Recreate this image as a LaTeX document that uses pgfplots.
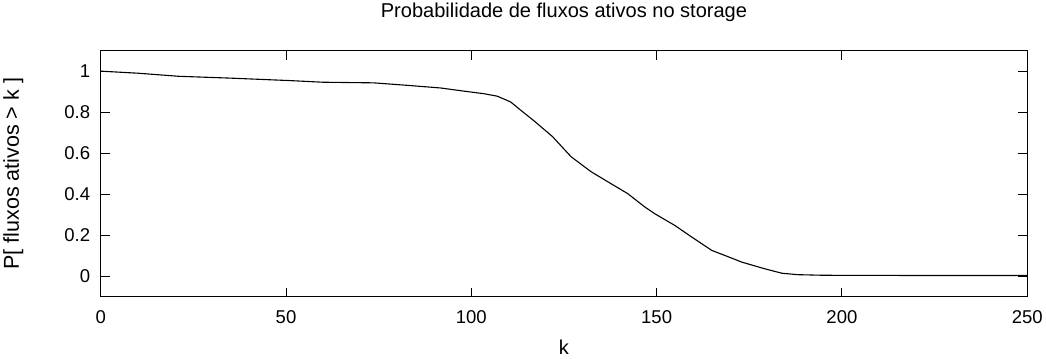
\documentclass[border=0pt]{standalone}
\usepackage{fontspec}
\setmainfont{Liberation Sans}
\usepackage{pgfplots}
\pgfplotsset{compat=1.18}
\begin{document}
\begin{tikzpicture}
\begin{axis}[
    scale only axis,
    width=922bp, height=245bp,
    xmin=0, xmax=250,
    ymin=-0.1, ymax=1.1,
    xtick={0,50,...,250},
    ytick={0,0.2,0.4,0.6,0.8,1},
    yticklabels={0,0.2,0.4,0.6,0.8,1},
    tick align=inside,
    major tick length=9bp,
    tick style={line width=1pt, black},
    axis line style={line width=1pt},
    /pgf/number format/assume math mode=true,
    tick label style={font=\fontsize{18.5}{22}\selectfont},
    label style={font=\fontsize{20}{24}\selectfont},
    title style={font=\fontsize{20}{24}\selectfont, yshift=19bp},
    yticklabel style={xshift=-7bp},
    xticklabel style={yshift=-10bp},
    title={Probabilidade de fluxos ativos no storage},
    xlabel={k},
    ylabel={P[ fluxos ativos > k ]},
    xlabel style={yshift=-10bp},
    ylabel style={yshift=34bp, font=\fontsize{21.5}{24}\selectfont},
  ]
  \addplot[black, line width=1.1pt] coordinates {
    (0,1.0) (10,0.99) (21,0.975) (35,0.966) (51,0.954) (60,0.946)
    (73.6,0.943) (82.6,0.931) (91.7,0.918) (97,0.905) (103.4,0.89)
    (107,0.878) (110.6,0.85) (113.3,0.81) (116.9,0.758) (121.9,0.681)
    (126.9,0.583) (132.3,0.51) (136.8,0.461) (142.2,0.403) (146.8,0.338)
    (149.5,0.305) (154.9,0.248) (159.5,0.191) (164.9,0.126) (168.5,0.101)
    (173,0.069) (179.3,0.036) (183.8,0.015) (188,0.008) (195,0.005)
    (220,0.004) (250,0.004)
  };
\end{axis}
\end{tikzpicture}
\end{document}
